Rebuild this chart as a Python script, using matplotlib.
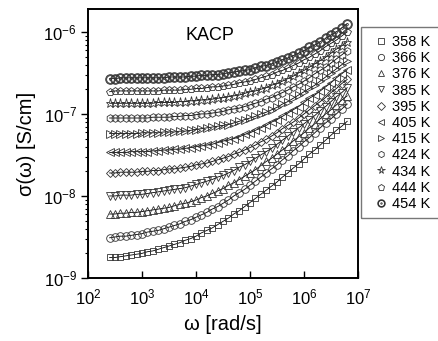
import numpy as np
import matplotlib
matplotlib.use('Agg')
import matplotlib.pyplot as plt
from matplotlib.lines import Line2D
from matplotlib.patches import Rectangle
from matplotlib.ticker import LogLocator

plt.rcParams['font.family'] = ['Liberation Sans', 'DejaVu Sans']
plt.rcParams['mathtext.default'] = 'regular'

# log10 of angular frequency (rad/s)
log_w = [2.4, 2.5, 2.6, 2.7, 2.8, 2.9, 3.0, 3.1, 3.2, 3.3, 3.4, 3.5, 3.6, 3.7, 3.8,
         3.9, 4.0, 4.1, 4.2, 4.3, 4.4, 4.5, 4.6, 4.7, 4.8, 4.9, 5.0, 5.1, 5.2, 5.3,
         5.4, 5.5, 5.6, 5.7, 5.8, 5.9, 6.0, 6.1, 6.2, 6.3, 6.4, 6.5, 6.6, 6.7, 6.8]

temps = ['358 K', '366 K', '376 K', '385 K', '395 K', '405 K',
         '415 K', '424 K', '434 K', '444 K', '454 K']

# log10 of conductivity (S/cm), one list per temperature
s358 = [-8.75, -8.75, -8.74, -8.73, -8.72, -8.71, -8.70, -8.68, -8.67, -8.65, -8.63, -8.61,
        -8.59, -8.57, -8.54, -8.52, -8.49, -8.45, -8.42, -8.39, -8.35, -8.31, -8.27, -8.22,
        -8.18, -8.13, -8.08, -8.03, -7.98, -7.93, -7.88, -7.83, -7.77, -7.72, -7.66, -7.61,
        -7.55, -7.49, -7.44, -7.38, -7.32, -7.26, -7.20, -7.15, -7.09]
s366 = [-8.51, -8.50, -8.49, -8.49, -8.48, -8.47, -8.46, -8.44, -8.43, -8.42, -8.40, -8.38,
        -8.36, -8.34, -8.31, -8.29, -8.26, -8.23, -8.20, -8.16, -8.13, -8.09, -8.05, -8.00,
        -7.96, -7.92, -7.87, -7.82, -7.77, -7.72, -7.67, -7.62, -7.56, -7.51, -7.45, -7.40,
        -7.34, -7.29, -7.23, -7.17, -7.11, -7.06, -7.00, -6.94, -6.88]
s376 = [-8.22, -8.22, -8.21, -8.21, -8.20, -8.20, -8.19, -8.18, -8.17, -8.16, -8.15, -8.14,
        -8.12, -8.10, -8.09, -8.07, -8.05, -8.02, -8.00, -7.97, -7.94, -7.91, -7.87, -7.84,
        -7.80, -7.76, -7.72, -7.68, -7.63, -7.58, -7.54, -7.49, -7.44, -7.39, -7.33, -7.28,
        -7.23, -7.17, -7.12, -7.06, -7.00, -6.95, -6.89, -6.83, -6.78]
s385 = [-8.00, -8.00, -7.99, -7.99, -7.99, -7.98, -7.98, -7.97, -7.96, -7.95, -7.94, -7.93,
        -7.92, -7.91, -7.90, -7.88, -7.86, -7.84, -7.82, -7.80, -7.77, -7.75, -7.72, -7.69,
        -7.65, -7.62, -7.58, -7.54, -7.50, -7.46, -7.42, -7.37, -7.32, -7.27, -7.22, -7.17,
        -7.12, -7.07, -7.02, -6.96, -6.91, -6.85, -6.79, -6.74, -6.68]
s395 = [-7.72, -7.72, -7.71, -7.71, -7.71, -7.71, -7.70, -7.70, -7.69, -7.69, -7.68, -7.67,
        -7.67, -7.66, -7.65, -7.64, -7.62, -7.61, -7.60, -7.58, -7.56, -7.54, -7.52, -7.49,
        -7.47, -7.44, -7.41, -7.38, -7.34, -7.31, -7.27, -7.23, -7.18, -7.14, -7.10, -7.05,
        -7.00, -6.95, -6.90, -6.85, -6.80, -6.74, -6.69, -6.63, -6.58]
s405 = [-7.47, -7.47, -7.47, -7.47, -7.46, -7.46, -7.46, -7.46, -7.45, -7.45, -7.44, -7.44,
        -7.43, -7.43, -7.42, -7.41, -7.40, -7.39, -7.38, -7.37, -7.35, -7.33, -7.32, -7.30,
        -7.28, -7.25, -7.23, -7.20, -7.17, -7.14, -7.10, -7.07, -7.03, -6.99, -6.95, -6.91,
        -6.86, -6.81, -6.77, -6.72, -6.67, -6.62, -6.56, -6.51, -6.46]
s415 = [-7.24, -7.24, -7.24, -7.24, -7.24, -7.24, -7.23, -7.23, -7.23, -7.23, -7.22, -7.22,
        -7.22, -7.21, -7.21, -7.20, -7.19, -7.18, -7.17, -7.16, -7.15, -7.14, -7.13, -7.11,
        -7.09, -7.07, -7.05, -7.03, -7.00, -6.98, -6.95, -6.92, -6.88, -6.85, -6.81, -6.77,
        -6.73, -6.69, -6.65, -6.60, -6.55, -6.50, -6.45, -6.40, -6.35]
s424 = [-7.05, -7.05, -7.05, -7.05, -7.05, -7.05, -7.05, -7.05, -7.04, -7.04, -7.04, -7.04,
        -7.03, -7.03, -7.02, -7.02, -7.01, -7.00, -7.00, -6.99, -6.98, -6.97, -6.95, -6.94,
        -6.93, -6.91, -6.89, -6.87, -6.85, -6.82, -6.80, -6.77, -6.74, -6.71, -6.67, -6.64,
        -6.60, -6.56, -6.51, -6.47, -6.43, -6.38, -6.33, -6.28, -6.23]
s434 = [-6.87, -6.87, -6.87, -6.87, -6.87, -6.87, -6.87, -6.87, -6.87, -6.86, -6.86, -6.86,
        -6.86, -6.85, -6.85, -6.84, -6.84, -6.83, -6.83, -6.82, -6.81, -6.80, -6.79, -6.78,
        -6.77, -6.75, -6.73, -6.72, -6.70, -6.68, -6.65, -6.63, -6.60, -6.57, -6.54, -6.50,
        -6.47, -6.43, -6.39, -6.35, -6.31, -6.26, -6.21, -6.17, -6.12]
s444 = [-6.73, -6.72, -6.72, -6.72, -6.72, -6.72, -6.72, -6.72, -6.72, -6.72, -6.71, -6.71,
        -6.71, -6.71, -6.70, -6.70, -6.69, -6.69, -6.68, -6.67, -6.67, -6.66, -6.65, -6.64,
        -6.62, -6.61, -6.60, -6.58, -6.56, -6.54, -6.52, -6.49, -6.47, -6.44, -6.41, -6.38,
        -6.34, -6.31, -6.27, -6.23, -6.18, -6.14, -6.10, -6.05, -6.00]
s454 = [-6.57, -6.57, -6.56, -6.56, -6.56, -6.56, -6.56, -6.56, -6.56, -6.56, -6.56, -6.55,
        -6.55, -6.55, -6.55, -6.54, -6.54, -6.53, -6.53, -6.52, -6.52, -6.51, -6.50, -6.49,
        -6.48, -6.47, -6.46, -6.44, -6.42, -6.41, -6.39, -6.37, -6.34, -6.32, -6.29, -6.26,
        -6.23, -6.19, -6.16, -6.12, -6.08, -6.04, -6.00, -5.95, -5.90]

series = [s358, s366, s376, s385, s395, s405, s415, s424, s434, s444, s454]
markers = ['s', 'o', '^', 'v', 'D', '<', '>', 'h', '*', 'p', r'$\odot$']
msizes = [5, 5.5, 6, 6, 4.5, 6, 6, 5.5, 6.5, 5.5, 7]

w = 10 ** np.array(log_w)

fig = plt.figure(figsize=(4.39, 3.41), dpi=100)
ax = fig.add_axes([88/439, 1-278/341, 270/439, 269/341])

for vals, m, ms, lab in zip(series, markers, msizes, temps):
    ax.plot(w, 10 ** np.array(vals), '-', color='k', lw=0.6, marker=m, ms=ms,
            mfc='none', mec='#333333', mew=0.6, label=lab)

ax.set_xscale('log')
ax.set_yscale('log')
ax.set_xlim(1e2, 1e7)
ax.set_ylim(1e-9, 1.9e-6)
ax.xaxis.set_major_locator(LogLocator(base=10, numticks=20))
ax.yaxis.set_major_locator(LogLocator(base=10, numticks=20))

for s in ax.spines.values():
    s.set_linewidth(1.4)

ax.tick_params(axis='x', which='both', direction='in', top=False, labelsize=12, pad=7)
ax.tick_params(axis='y', which='both', direction='out', right=False, labelsize=12, pad=3)
ax.tick_params(which='major', length=5, width=1)
ax.tick_params(which='minor', length=2.5, width=0.8)

ax.set_xlabel('ω [rad/s]', fontsize=14.5, labelpad=5)
ax.set_ylabel('σ(ω) [S/cm]', fontsize=14.5, labelpad=5)
ax.text(0.36, 0.90, 'KACP', transform=ax.transAxes, fontsize=13, va='center')

# legend outside on the right, frame cut by figure edge
lsizes = [4, 4.5, 5, 5, 4, 5, 5, 4.5, 5.5, 4.5, 5.5]
handles = [Line2D([], [], ls='none', marker=m, ms=ms, mfc='none', mec='#333333', mew=0.6)
           for m, ms in zip(markers, lsizes)]
fig.legend(handles, temps, loc='upper left', bbox_to_anchor=(375/439, 1-35/341),
           frameon=False, fontsize=10.5, handlelength=0.8, handletextpad=0.4,
           labelspacing=0.15, borderaxespad=0, borderpad=0)
fig.add_artist(Rectangle((361/439, 1-218/341), 0.3, 191/341, transform=fig.transFigure,
                         fill=False, ec='#777777', lw=1))

fig.savefig('out.png', dpi=100)
